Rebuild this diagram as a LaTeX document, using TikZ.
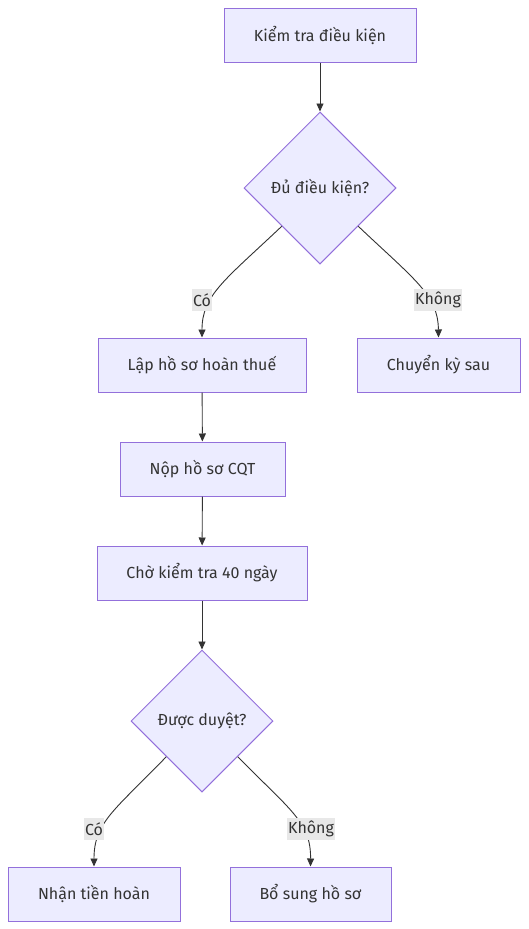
\documentclass[tikz,border=0pt]{standalone}
\usepackage{fontspec}
\setmainfont{Fira Sans}
\usetikzlibrary{arrows.meta,shapes.geometric}
\definecolor{boxfill}{HTML}{ECECFF}
\definecolor{boxline}{HTML}{9370DB}
\definecolor{edgeline}{HTML}{333333}
\definecolor{lblfill}{HTML}{E8E8E8}

\begin{document}
\begin{tikzpicture}[x=1pt,y=-1pt,>={Triangle[length=8pt,width=7pt]},
  font=\fontsize{16}{19}\selectfont,text=edgeline,
  stepbox/.style={draw=boxline,fill=boxfill,line width=1pt,minimum height=54pt,inner sep=0pt},
  decide/.style={diamond,draw=boxline,fill=boxfill,line width=1pt,inner sep=0pt},
  flow/.style={->,draw=edgeline,line width=0.9pt},
  lbl/.style={fill=lblfill,inner xsep=1pt,inner ysep=3pt,minimum height=22pt}]
\useasboundingbox (0,0) rectangle (528,929);
% nodes
\node[stepbox,minimum width=192pt] (kiemtra) at (320,35) {Kiểm tra điều kiện};
\node[decide,minimum width=152pt,minimum height=152pt] (dudk) at (320,188) {Đủ điều kiện?};
\node[stepbox,minimum width=208pt] (lapho) at (202,365) {Lập hồ sơ hoàn thuế};
\node[stepbox,minimum width=163pt] (chuyen) at (438.5,365) {Chuyển kỳ sau};
\node[stepbox,minimum width=165pt] (nop) at (202.5,469) {Nộp hồ sơ CQT};
\node[stepbox,minimum width=210pt] (cho) at (202,573) {Chờ kiểm tra 40 ngày};
\node[decide,minimum width=142pt,minimum height=142pt] (duyet) at (202,721) {Được duyệt?};
\node[stepbox,minimum width=172pt] (nhan) at (94,894) {Nhận tiền hoàn};
\node[stepbox,minimum width=161pt] (bosung) at (310.5,894) {Bổ sung hồ sơ};
% edges
\draw[flow] (kiemtra) -- (dudk);
\draw[flow] (dudk.south west) .. controls (225,280) and (202,295) .. (lapho.north);
\draw[flow] (dudk.south east) .. controls (415,280) and (438,295) .. (chuyen.north);
\draw[flow] (lapho) -- (nop);
\draw[flow] (nop) -- (cho);
\draw[flow] (cho) -- (duyet);
\draw[flow] (duyet.south west) .. controls (115,810) and (94,822) .. (nhan.north);
\draw[flow] (duyet.south east) .. controls (290,810) and (311,822) .. (bosung.north);
% labels
\node[lbl] (co1) at (202,300) {Có};
\node[lbl] (khong1) at (438,300) {Không};
\node[lbl] (co2) at (94,829) {Có};
\node[lbl] (khong2) at (311,829) {Không};
\end{tikzpicture}
\end{document}
